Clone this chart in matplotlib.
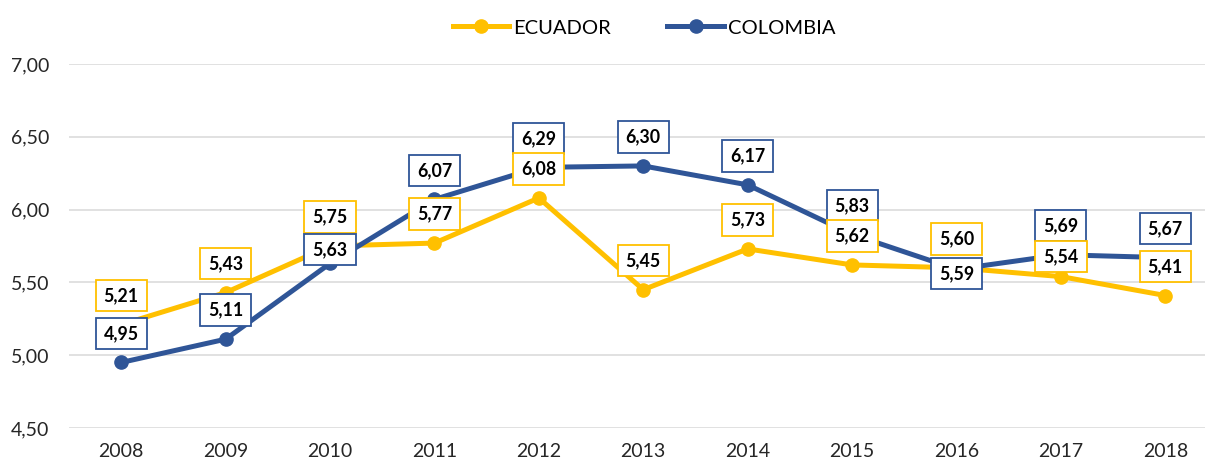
import matplotlib.pyplot as plt
from matplotlib.ticker import FuncFormatter

plt.rcParams['font.family'] = ['Lato', 'DejaVu Sans']

years = ['2008', '2009', '2010', '2011', '2012', '2013', '2014', '2015', '2016', '2017', '2018']
ecuador = [5.21, 5.43, 5.75, 5.77, 6.08, 5.45, 5.73, 5.62, 5.60, 5.54, 5.41]
colombia = [4.95, 5.11, 5.63, 6.07, 6.29, 6.30, 6.17, 5.83, 5.59, 5.69, 5.67]

yellow = '#FFC000'
blue = '#2F5597'


def fmt(v):
    return f"{v:.2f}".replace('.', ',')


fig = plt.figure(figsize=(12.05, 4.65), dpi=100)
ax = fig.add_axes([69 / 1205, 37 / 465, 1136 / 1205, 364 / 465])

x = list(range(len(years)))

ax.plot(x, ecuador, color=yellow, lw=3.6, marker='o', ms=9.5, label='ECUADOR', zorder=3)
ax.plot(x, colombia, color=blue, lw=3.6, marker='o', ms=9.5, label='COLOMBIA', zorder=4)

# label offsets in pixels (most labels sit above the point)
eq_off = {9: 20}
co_off = {2: 14, 8: -4}

for i, v in enumerate(ecuador):
    ax.annotate(fmt(v), (x[i], v), xytext=(0, eq_off.get(i, 29)), textcoords='offset pixels',
                ha='center', va='center', fontsize=12.8, fontweight='bold', color='black',
                bbox=dict(boxstyle='square,pad=0.45', fc='white', ec=yellow, lw=1.3,
                          mutation_aspect=0.9),
                zorder=6)
for i, v in enumerate(colombia):
    ax.annotate(fmt(v), (x[i], v), xytext=(0, co_off.get(i, 29)), textcoords='offset pixels',
                ha='center', va='center', fontsize=12.8, fontweight='bold', color='black',
                bbox=dict(boxstyle='square,pad=0.45', fc='white', ec=blue, lw=1.3,
                          mutation_aspect=0.9),
                zorder=7 if i == 2 else 5)

ax.set_xlim(-0.5, 10.38)
ax.set_ylim(4.5, 7.0)
ax.set_yticks([4.5, 5.0, 5.5, 6.0, 6.5, 7.0])
ax.yaxis.set_major_formatter(FuncFormatter(lambda v, p: fmt(v)))
ax.set_xticks(x)
ax.set_xticklabels(years)

ax.grid(axis='y', color='#D9D9D9', lw=1.1)
ax.set_axisbelow(True)
for s in ax.spines.values():
    s.set_visible(False)
ax.tick_params(axis='both', length=0, labelsize=14, colors='#262626')
ax.tick_params(axis='y', pad=14)
ax.tick_params(axis='x', pad=11)

fig.legend(loc='center', bbox_to_anchor=(644 / 1205, 1 - 28 / 465), ncol=2, frameon=False,
           fontsize=14.5, handlelength=2.8, handletextpad=0.2, columnspacing=2.8)

fig.savefig('out.png', dpi=100)
